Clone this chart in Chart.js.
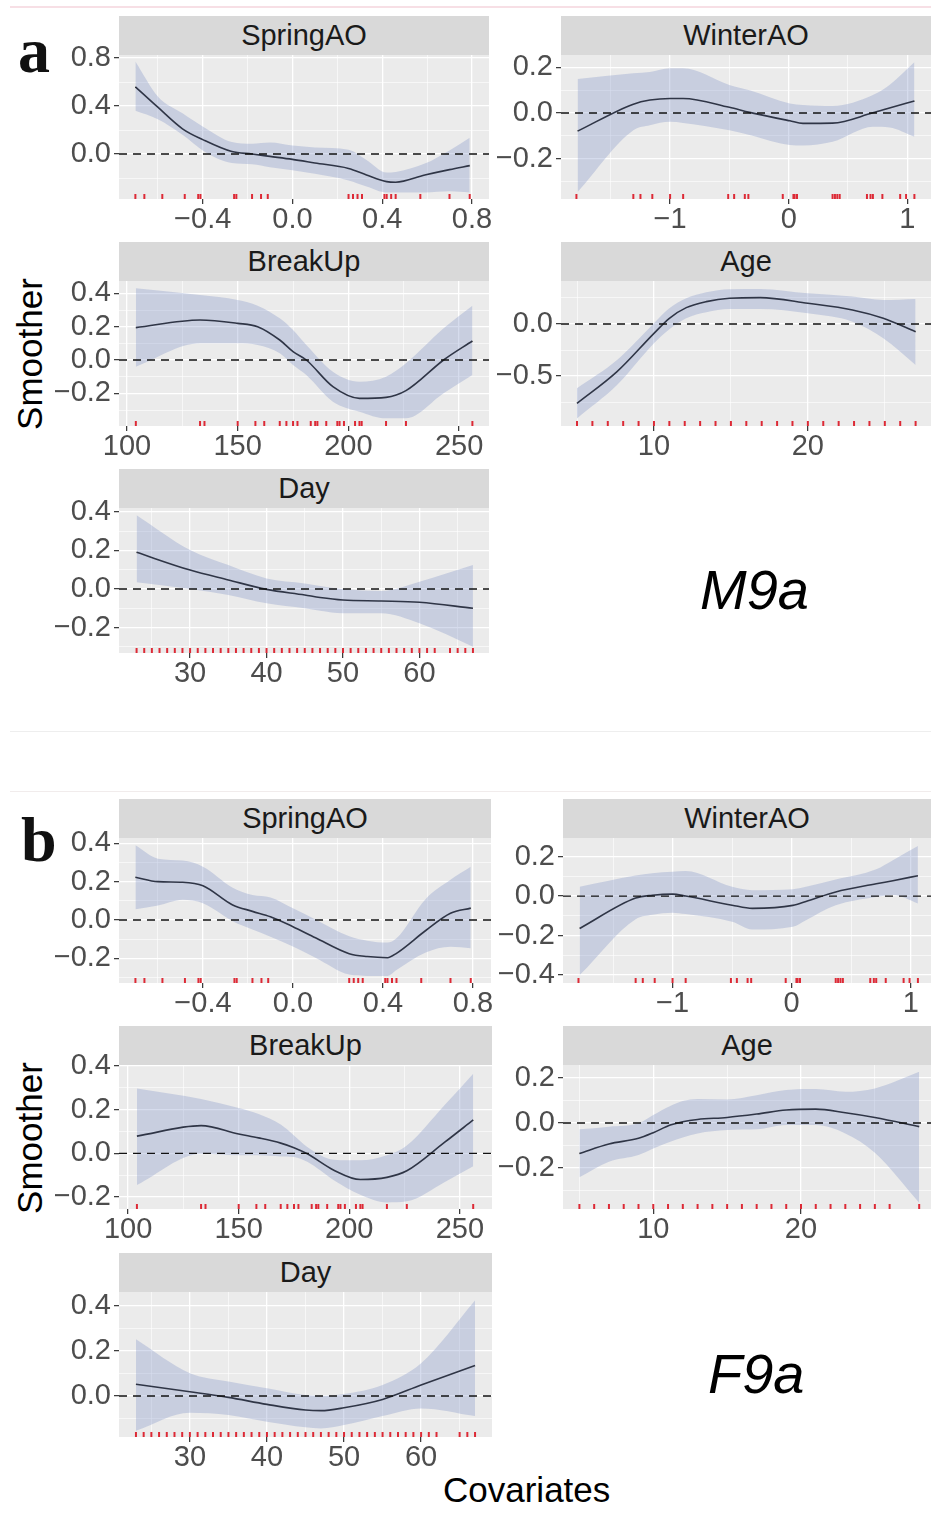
<!DOCTYPE html>
<html>
<head>
<meta charset="utf-8">
<script src="https://cdn.jsdelivr.net/npm/chart.js@4.4.1/dist/chart.umd.min.js"></script>
<style>
  body { margin: 0; background: #fff; font-family: "Liberation Sans", Arial, sans-serif; }
  #page { position: relative; width: 931px; height: 1513px; overflow: hidden; }
  .strip { position: absolute; background: #d9d9d9; color: #1a1a1a; font-size: 29px;
           display: flex; align-items: center; justify-content: center; }
  canvas { position: absolute; }
  .tag { position: absolute; font-family: "Liberation Serif", serif; font-weight: bold;
         font-size: 64px; line-height: 1; color: #111; }
  .model { position: absolute; font-style: italic; font-size: 56px; line-height: 1; color: #000; }
  .ylab { position: absolute; width: 200px; height: 40px; line-height: 40px; text-align: center;
          font-size: 35px; color: #000; transform: rotate(-90deg); }
  .xlab { position: absolute; font-size: 35px; line-height: 1; color: #000; }
  .rule { position: absolute; left: 10px; width: 921px; }
</style>
</head>
<body>
<div id="page">
  <div class="rule" style="top:6px;height:2px;background:#f7dfe5"></div>
  <div class="rule" style="top:731px;height:1px;background:#eeeeee"></div>
  <div class="rule" style="top:791px;height:1px;background:#f1ecec"></div>

  <div class="tag" style="left:18px;top:19px">a</div>
  <div class="tag" style="left:21px;top:808px">b</div>
  <div class="ylab" style="left:-70px;top:334px">Smoother</div>
  <div class="ylab" style="left:-70px;top:1118px">Smoother</div>
  <div class="model" style="left:700px;top:562px">M9a</div>
  <div class="model" style="left:708px;top:1346px">F9a</div>
  <div class="xlab" style="left:443px;top:1472px">Covariates</div>
</div>

<script>
/* ─── Data: covariate grids ─── */
const springX = [-0.70, -0.60, -0.49, -0.40, -0.27, -0.18, -0.10, 0.00, 0.10, 0.25, 0.33, 0.42, 0.46, 0.59, 0.70, 0.79];
const winterX = [-1.78, -1.31, -1.17, -1.00, -0.89, -0.50, -0.33, 0.01, 0.12, 0.37, 0.71, 0.85, 1.06];
const breakX = [104, 133, 150, 159, 169, 175, 181, 193, 205, 217, 226, 243, 256];
const ageXA = [5, 7.6, 10, 11, 12.1, 13.4, 14.9, 16.9, 20, 22.9, 24.9, 27];
const ageXB = [5, 7, 9, 10, 11.15, 12, 13, 15, 17, 19, 21, 23, 25, 28];
const dayX = [23, 30, 35, 40, 45, 47, 50, 55, 60, 67];

/* ─── Data: block a (M9a) ─── */
const springFitA = [0.56, 0.39, 0.21, 0.12, 0.02, 0.00, -0.02, -0.045, -0.075, -0.12, -0.175, -0.23, -0.235, -0.175, -0.13, -0.097];
const springHiA = [0.77, 0.48, 0.34, 0.23, 0.10, 0.085, 0.095, 0.07, 0.055, 0.035, -0.05, -0.155, -0.15, -0.08, 0.03, 0.135];
const springLoA = [0.36, 0.29, 0.16, 0.03, -0.075, -0.085, -0.11, -0.135, -0.165, -0.22, -0.27, -0.32, -0.32, -0.32, -0.31, -0.32];

const winterFitA = [-0.079, 0.039, 0.057, 0.064, 0.064, 0.025, 0.003, -0.034, -0.045, -0.044, 0.001, 0.022, 0.053];
const winterHiA = [0.149, 0.174, 0.18, 0.196, 0.196, 0.123, 0.10, 0.042, 0.035, 0.031, 0.079, 0.123, 0.222];
const winterLoA = [-0.345, -0.075, -0.053, -0.038, -0.043, -0.075, -0.096, -0.14, -0.142, -0.126, -0.06, -0.063, -0.104];

const breakFitA = [0.194, 0.24, 0.22, 0.20, 0.12, 0.05, 0.0, -0.16, -0.23, -0.224, -0.184, 0.0, 0.114];
const breakHiA = [0.43, 0.39, 0.36, 0.326, 0.25, 0.18, 0.09, -0.07, -0.13, -0.10, -0.02, 0.19, 0.326];
const breakLoA = [-0.04, 0.10, 0.10, 0.09, 0.04, -0.03, -0.09, -0.25, -0.31, -0.35, -0.35, -0.20, -0.09];

const ageFitA = [-0.763, -0.458, -0.09, 0.055, 0.157, 0.215, 0.247, 0.253, 0.199, 0.135, 0.055, -0.074];
const ageHiA = [-0.618, -0.346, 0.007, 0.151, 0.247, 0.305, 0.334, 0.337, 0.295, 0.263, 0.23, 0.24];
const ageLoA = [-0.907, -0.587, -0.186, -0.051, 0.055, 0.112, 0.144, 0.144, 0.103, 0.022, -0.138, -0.394];

const dayFitA = [0.19, 0.098, 0.047, -0.002, -0.031, -0.044, -0.057, -0.062, -0.069, -0.10];
const dayHiA = [0.383, 0.202, 0.124, 0.055, 0.029, 0.015, 0.0, -0.01, 0.038, 0.124];
const dayLoA = [0.035, 0.0, -0.031, -0.074, -0.10, -0.113, -0.126, -0.126, -0.178, -0.299];

/* ─── Data: block b (F9a) ─── */
const springFitB = [0.223, 0.20, 0.197, 0.179, 0.08, 0.045, 0.017, -0.035, -0.093, -0.176, -0.191, -0.197, -0.174, -0.055, 0.035, 0.062];
const springHiB = [0.39, 0.32, 0.31, 0.278, 0.17, 0.13, 0.118, 0.061, 0.003, -0.085, -0.108, -0.118, -0.096, 0.11, 0.21, 0.278];
const springLoB = [0.056, 0.075, 0.105, 0.087, -0.005, -0.05, -0.087, -0.139, -0.197, -0.285, -0.292, -0.292, -0.261, -0.17, -0.14, -0.148];

const winterFitB = [-0.164, -0.01, 0.004, 0.01, 0.0, -0.046, -0.062, -0.047, -0.027, 0.021, 0.062, 0.078, 0.103];
const winterHiB = [0.047, 0.104, 0.116, 0.123, 0.127, 0.047, 0.03, 0.035, 0.047, 0.084, 0.136, 0.182, 0.253];
const winterLoB = [-0.40, -0.117, -0.094, -0.084, -0.091, -0.13, -0.169, -0.155, -0.122, -0.047, -0.005, 0.005, -0.037];

const breakFitB = [0.079, 0.127, 0.089, 0.071, 0.047, 0.026, -0.002, -0.077, -0.12, -0.11, -0.08, 0.05, 0.153];
const breakHiB = [0.297, 0.249, 0.208, 0.18, 0.132, 0.082, 0.029, -0.029, -0.032, -0.009, 0.036, 0.22, 0.365];
const breakLoB = [-0.145, -0.002, -0.009, -0.009, -0.014, -0.017, -0.039, -0.123, -0.19, -0.225, -0.22, -0.132, -0.059];

const ageFitB = [-0.135, -0.093, -0.068, -0.043, -0.009, 0.006, 0.016, 0.025, 0.04, 0.058, 0.062, 0.046, 0.025, -0.016];
const ageHiB = [-0.028, -0.016, -0.001, 0.036, 0.076, 0.098, 0.107, 0.105, 0.124, 0.147, 0.151, 0.139, 0.154, 0.228];
const ageLoB = [-0.241, -0.172, -0.142, -0.113, -0.083, -0.064, -0.046, -0.031, -0.028, -0.009, -0.009, -0.046, -0.132, -0.354];

const dayFitB = [0.052, 0.019, -0.006, -0.037, -0.062, -0.065, -0.052, -0.015, 0.049, 0.136];
const dayHiB = [0.252, 0.101, 0.064, 0.034, 0.004, 0.001, 0.009, 0.049, 0.145, 0.424];
const dayLoB = [-0.154, -0.074, -0.084, -0.114, -0.139, -0.144, -0.129, -0.089, -0.055, -0.089];

/* ─── Data: rug (observed covariate values) ─── */
const springRug = [-0.70, -0.66, -0.58, -0.48, -0.42, -0.41, -0.26, -0.25, -0.18, -0.14, -0.11, 0.25, 0.27, 0.29, 0.31, 0.41, 0.42, 0.44, 0.46, 0.57, 0.70, 0.79];
const winterRug = [-1.79, -1.31, -1.25, -1.15, -1.00, -0.89, -0.51, -0.46, -0.37, -0.34, -0.05, 0.04, 0.05, 0.07, 0.37, 0.39, 0.41, 0.43, 0.66, 0.69, 0.71, 0.79, 0.94, 0.99, 1.06];
const breakRug = [104, 133, 135, 150, 158, 162, 169, 172, 175, 177, 183, 185, 186, 190, 195, 196, 198, 203, 205, 206, 217, 226, 256];
const ageRugA = [5, 6, 7, 8, 9, 10, 11, 12, 13, 14, 15, 16, 17, 18, 19, 20, 21, 22, 23, 24, 25, 26, 27];
const ageRugB = [5, 6, 7, 8, 9, 10, 11, 12, 13, 14, 15, 16, 17, 18, 19, 20, 21, 22, 23, 24, 25, 26, 28];
const dayRugA = [23, 24, 25, 26, 27, 28, 29, 30, 31, 32, 33, 34, 35, 36, 37, 38, 39, 40, 41, 42, 43, 44, 45, 46, 47, 48, 49, 50, 51, 52, 53, 54, 55, 56, 57, 58, 59, 60, 61, 62, 64, 65, 66, 67];
const dayRugB = [23, 24, 25, 26, 27, 28, 29, 30, 31, 32, 33, 34, 35, 36, 37, 38, 39, 40, 41, 42, 43, 44, 45, 46, 47, 48, 49, 50, 51, 52, 53, 54, 55, 56, 57, 58, 59, 60, 61, 62, 65, 66, 67];

/* ─── Panel layout (pixels) and axis settings ─── */
const panels = [
  { name: "SpringAO", box: [119, 489, 16, 55, 199], xs: springX, fit: springFitA, hi: springHiA, lo: springLoA, rug: springRug,
    x: [-0.773, 0.876, 0.4, 1], y: [-0.375, 0.825, 0.4, 1] },
  { name: "WinterAO", box: [561, 931, 16, 55, 199], xs: winterX, fit: winterFitA, hi: winterHiA, lo: winterLoA, rug: winterRug,
    x: [-1.92, 1.20, 1, 0], y: [-0.376, 0.254, 0.2, 1] },
  { name: "BreakUp", box: [119, 489, 242, 281, 426], xs: breakX, fit: breakFitA, hi: breakHiA, lo: breakLoA, rug: breakRug,
    x: [96.4, 263.5, 50, 0], y: [-0.396, 0.474, 0.2, 1] },
  { name: "Age", box: [561, 931, 242, 281, 426], xs: ageXA, fit: ageFitA, hi: ageHiA, lo: ageLoA, rug: ageRugA,
    x: [3.96, 28.0, 10, 0], y: [-0.98, 0.413, 0.5, 1] },
  { name: "Day", box: [119, 489, 469, 508, 653], xs: dayX, fit: dayFitA, hi: dayHiA, lo: dayLoA, rug: dayRugA,
    x: [20.7, 69.1, 10, 0], y: [-0.332, 0.42, 0.2, 1] },

  { name: "SpringAO", box: [119, 491, 799, 838, 983], xs: springX, fit: springFitB, hi: springHiB, lo: springLoB, rug: springRug,
    x: [-0.773, 0.88, 0.4, 1], y: [-0.329, 0.428, 0.2, 1] },
  { name: "WinterAO", box: [563, 931, 799, 838, 983], xs: winterX, fit: winterFitB, hi: winterHiB, lo: winterLoB, rug: winterRug,
    x: [-1.92, 1.17, 1, 0], y: [-0.44, 0.294, 0.2, 1] },
  { name: "BreakUp", box: [119, 492, 1026, 1065, 1209], xs: breakX, fit: breakFitB, hi: breakHiB, lo: breakLoB, rug: breakRug,
    x: [95.9, 264.5, 50, 0], y: [-0.255, 0.405, 0.2, 1] },
  { name: "Age", box: [563, 931, 1026, 1065, 1209], xs: ageXB, fit: ageFitB, hi: ageHiB, lo: ageLoB, rug: ageRugB,
    x: [3.89, 28.8, 10, 0], y: [-0.382, 0.258, 0.2, 1] },
  { name: "Day", box: [119, 492, 1253, 1292, 1437], xs: dayX, fit: dayFitB, hi: dayHiB, lo: dayLoB, rug: dayRugB,
    x: [20.8, 69.2, 10, 0], y: [-0.182, 0.462, 0.2, 1] },
];

const AXIS_W = 70, AXIS_H = 40, PAD_TOP = 20;

Chart.defaults.font.family = '"Liberation Sans", Arial, sans-serif';

/* ─── Helpers ─── */
const isMajor = (v, step) => Math.abs(v / step - Math.round(v / step)) < 1e-6;
const fmt = (v, dec) => (v < -1e-9 ? "\u2212" : "") + Math.abs(v).toFixed(dec);
const pts = (xs, ys) => xs.map((x, i) => ({ x, y: ys[i] }));

function gridTicks(min, max, step) {
  const out = [];
  for (let k = Math.ceil(min / step - 1e-9); k * step <= max + 1e-9; k++) {
    out.push({ value: +(k * step).toFixed(6) });
  }
  return out;
}

function axis([min, max, major, dec], isX) {
  const major_ = (ctx) => ctx.tick && isMajor(ctx.tick.value, major);
  return {
    type: "linear",
    min, max,
    bounds: "data",
    afterBuildTicks: (s) => { s.ticks = gridTicks(min, max, major / 2); },
    afterFit: (s) => { if (isX) s.height = AXIS_H; else s.width = AXIS_W; },
    border: { display: false },
    grid: {
      color: "#ffffff",
      lineWidth: (ctx) => (major_(ctx) ? 1.3 : 0.6),
      tickColor: (ctx) => (major_(ctx) ? "#333333" : "rgba(0,0,0,0)"),
      tickLength: 5,
      tickWidth: 1.2,
    },
    ticks: {
      autoSkip: false,
      maxRotation: 0,
      minRotation: 0,
      padding: isX ? 1 : 3,
      color: "#4d4d4d",
      font: { size: 29, lineHeight: 1 },
      callback: (v) => (isMajor(v, major) ? fmt(v, dec) : ""),
    },
  };
}

/* background, zero line and rug */
function decoPlugin(rug) {
  return {
    id: "deco",
    beforeDraw(chart) {
      const a = chart.chartArea, c = chart.ctx;
      c.save();
      c.fillStyle = "#ebebeb";
      c.fillRect(a.left, a.top, a.right - a.left, a.bottom - a.top);
      c.restore();
    },
    afterDatasetsDraw(chart) {
      const a = chart.chartArea, c = chart.ctx;
      const xs = chart.scales.x, ys = chart.scales.y;
      c.save();
      c.beginPath();
      c.rect(a.left, a.top, a.right - a.left, a.bottom - a.top);
      c.clip();
      const y0 = ys.getPixelForValue(0);
      c.strokeStyle = "#111";
      c.lineWidth = 1.4;
      c.setLineDash([8, 6]);
      c.beginPath();
      c.moveTo(a.left, y0);
      c.lineTo(a.right, y0);
      c.stroke();
      c.setLineDash([]);
      c.strokeStyle = "#dd2a36";
      c.lineWidth = 2;
      rug.forEach((v) => {
        const x = xs.getPixelForValue(v);
        c.beginPath();
        c.moveTo(x, a.bottom);
        c.lineTo(x, a.bottom - 5);
        c.stroke();
      });
      c.restore();
    },
  };
}

/* ─── Build panels ─── */
const page = document.getElementById("page");

panels.forEach((p) => {
  const [left, right, stripTop, top, bottom] = p.box;

  const strip = document.createElement("div");
  strip.className = "strip";
  strip.textContent = p.name;
  Object.assign(strip.style, {
    left: left + "px", top: stripTop + "px",
    width: right - left + "px", height: top - stripTop + "px",
  });
  page.appendChild(strip);

  const padRight = Math.min(20, 931 - right);
  const cv = document.createElement("canvas");
  cv.width = AXIS_W + (right - left) + padRight;
  cv.height = PAD_TOP + (bottom - top) + AXIS_H;
  cv.style.left = left - AXIS_W + "px";
  cv.style.top = top - PAD_TOP + "px";
  page.appendChild(cv);

  new Chart(cv, {
    type: "line",
    data: {
      datasets: [
        {
          data: pts(p.xs, p.hi),
          fill: "+1",
          backgroundColor: "rgba(120,140,195,0.30)",
          borderColor: "rgba(0,0,0,0)",
          borderWidth: 0,
          pointRadius: 0,
          cubicInterpolationMode: "monotone",
        },
        {
          data: pts(p.xs, p.lo),
          fill: false,
          borderColor: "rgba(0,0,0,0)",
          borderWidth: 0,
          pointRadius: 0,
          cubicInterpolationMode: "monotone",
        },
        {
          data: pts(p.xs, p.fit),
          fill: false,
          borderColor: "#111111",
          borderWidth: 1.6,
          pointRadius: 0,
          cubicInterpolationMode: "monotone",
        },
      ],
    },
    options: {
      responsive: false,
      animation: false,
      devicePixelRatio: 1,
      events: [],
      layout: { padding: { top: PAD_TOP, right: padRight, left: 0, bottom: 0 } },
      plugins: { legend: { display: false }, tooltip: { enabled: false } },
      scales: { x: axis(p.x, true), y: axis(p.y, false) },
    },
    plugins: [decoPlugin(p.rug)],
  });
});
</script>
</body>
</html>
